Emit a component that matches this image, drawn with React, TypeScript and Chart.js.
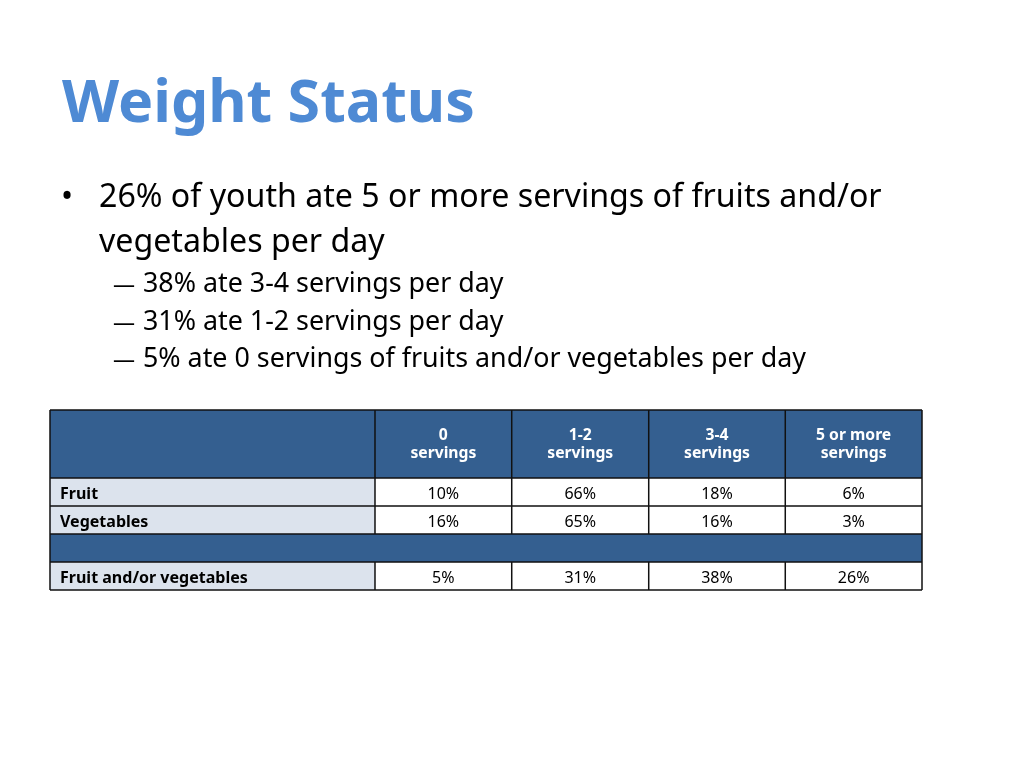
import React, { useEffect, useRef } from 'react';
import { Chart, registerables } from 'chart.js';

Chart.register(...registerables);

// ---- data ----
const TITLE = 'Weight Status';
const BULLET_LINES = ['26% of youth ate 5 or more servings of fruits and/or', 'vegetables per day'];
const SUB_BULLETS = [
  '38% ate 3-4 servings per day',
  '31% ate 1-2 servings per day',
  '5% ate 0 servings of fruits and/or vegetables per day',
];
const COLUMN_TOP = ['0', '1-2', '3-4', '5 or more'];
const COLUMN_BOTTOM = ['servings', 'servings', 'servings', 'servings'];
const ROW_LABELS = ['Fruit', 'Vegetables', '', 'Fruit and/or vegetables'];
const FRUIT = [10, 66, 18, 6];
const VEGETABLES = [16, 65, 16, 3];
const FRUIT_OR_VEGETABLES = [5, 31, 38, 26];
const ROW_VALUES: (number[] | null)[] = [FRUIT, VEGETABLES, null, FRUIT_OR_VEGETABLES];

// ---- style ----
const FAMILY = '"Noto Sans", "Open Sans", sans-serif';
const TITLE_COLOR = '#4E8AD4';
const HEADER_BG = '#345F90';
const LABEL_BG = '#DCE3ED';
const LINE_COLOR = '#111111';
// column edges on the x scale (percent of table width)
const COL_EDGES = [0, 37.27, 52.95, 68.66, 84.32, 100];

function fit(ctx: CanvasRenderingContext2D, text: string, weight: string, target: number) {
  ctx.font = `${weight} 100px ${FAMILY}`;
  const w = ctx.measureText(text).width;
  return (100 * target) / w;
}

const slidePlugin = {
  id: 'slide',
  afterDraw(chart: any) {
    const ctx: CanvasRenderingContext2D = chart.ctx;
    const xs = chart.scales.x;
    const ys = chart.scales.y;
    const area = chart.chartArea;
    ctx.save();
    ctx.textBaseline = 'alphabetic';

    // title
    const ts = fit(ctx, TITLE, 'bold', 413);
    ctx.font = `bold ${ts}px ${FAMILY}`;
    ctx.fillStyle = TITLE_COLOR;
    ctx.textAlign = 'left';
    ctx.fillText(TITLE, 62, 122);

    // bullet
    const bs = fit(ctx, BULLET_LINES[0], 'normal', 783);
    ctx.fillStyle = '#000';
    ctx.font = `normal ${bs}px ${FAMILY}`;
    ctx.textAlign = 'center';
    ctx.fillText('\u2022', 67, 207);
    ctx.textAlign = 'left';
    ctx.fillText(BULLET_LINES[0], 99, 207);
    ctx.fillText(BULLET_LINES[1], 99, 252);

    // sub bullets
    const ss = fit(ctx, SUB_BULLETS[2], 'normal', 663);
    const ds = fit(ctx, '\u2014', 'normal', 22);
    const subBase = [292, 330, 367];
    SUB_BULLETS.forEach((t, i) => {
      ctx.font = `normal ${ds}px ${FAMILY}`;
      ctx.fillText('\u2014', 113, subBase[i] - (ds - ss) * 0.0);
      ctx.font = `normal ${ss}px ${FAMILY}`;
      ctx.fillText(t, 143, subBase[i]);
    });

    // table
    const px = (v: number) => xs.getPixelForValue(v);
    const left = px(COL_EDGES[0]);
    const right = px(COL_EDGES[COL_EDGES.length - 1]);
    const rowH = Math.abs(ys.getPixelForValue(1) - ys.getPixelForValue(0));
    const headerTop = 410;
    const headerBottom = area.top;
    const tableBottom = area.bottom;

    const hs = fit(ctx, 'servings', 'bold', 66);
    const cs = fit(ctx, ROW_LABELS[3], 'bold', 188);

    // header background
    ctx.fillStyle = HEADER_BG;
    ctx.fillRect(left, headerTop, right - left, headerBottom - headerTop);

    ROW_LABELS.forEach((label, r) => {
      const cy = ys.getPixelForValue(r);
      const top = cy - rowH / 2;
      const vals = ROW_VALUES[r];
      if (!vals) {
        ctx.fillStyle = HEADER_BG;
        ctx.fillRect(left, top, right - left, rowH);
        return;
      }
      ctx.fillStyle = LABEL_BG;
      ctx.fillRect(left, top, px(COL_EDGES[1]) - left, rowH);
      ctx.fillStyle = '#FFFFFF';
      ctx.fillRect(px(COL_EDGES[1]), top, right - px(COL_EDGES[1]), rowH);
      ctx.fillStyle = '#000';
      ctx.textAlign = 'left';
      ctx.font = `bold ${cs}px ${FAMILY}`;
      ctx.fillText(label, left + 10, cy + cs * 0.45);
      ctx.textAlign = 'center';
      ctx.font = `normal ${cs}px ${FAMILY}`;
      vals.forEach((v, c) => {
        const cx = (px(COL_EDGES[c + 1]) + px(COL_EDGES[c + 2])) / 2;
        ctx.fillText(`${v}%`, cx, cy + cs * 0.45);
      });
    });

    // header text
    ctx.fillStyle = '#FFFFFF';
    ctx.textAlign = 'center';
    ctx.font = `bold ${hs}px ${FAMILY}`;
    COLUMN_TOP.forEach((t, c) => {
      const cx = (px(COL_EDGES[c + 1]) + px(COL_EDGES[c + 2])) / 2;
      ctx.fillText(t, cx, 440);
      ctx.fillText(COLUMN_BOTTOM[c], cx, 458);
    });

    // grid lines
    ctx.strokeStyle = LINE_COLOR;
    ctx.lineWidth = 1.5;
    ctx.beginPath();
    const hLines = [headerTop, headerBottom];
    ROW_LABELS.forEach((_, r) => hLines.push(ys.getPixelForValue(r) + rowH / 2));
    hLines.forEach((y) => {
      ctx.moveTo(left, y);
      ctx.lineTo(right, y);
    });
    COL_EDGES.forEach((e, i) => {
      const x = px(e);
      if (i === 0 || i === COL_EDGES.length - 1) {
        ctx.moveTo(x, headerTop);
        ctx.lineTo(x, tableBottom);
      } else {
        ctx.moveTo(x, headerTop);
        ctx.lineTo(x, ys.getPixelForValue(1) + rowH / 2);
        ctx.moveTo(x, ys.getPixelForValue(3) - rowH / 2);
        ctx.lineTo(x, tableBottom);
      }
    });
    ctx.stroke();
    ctx.restore();
  },
};

export default function App() {
  const ref = useRef<HTMLCanvasElement | null>(null);
  useEffect(() => {
    if (!ref.current) return;
    const chart = new Chart(ref.current, {
      type: 'bar',
      data: { labels: ROW_LABELS, datasets: [] },
      options: {
        indexAxis: 'y',
        animation: false,
        responsive: false,
        devicePixelRatio: 1,
        layout: { padding: { left: 50, top: 478, right: 102, bottom: 178 } },
        scales: {
          x: { type: 'linear', min: 0, max: 100, display: false },
          y: { type: 'category', labels: ROW_LABELS, offset: true, display: false },
        },
        plugins: { legend: { display: false }, tooltip: { enabled: false }, title: { display: false } },
      },
      plugins: [slidePlugin],
    } as any);
    let alive = true;
    Promise.all([
      document.fonts.load('bold 20px "Noto Sans"'),
      document.fonts.load('20px "Noto Sans"'),
    ]).then(() => {
      if (alive) chart.update();
    }).catch(() => {});
    return () => {
      alive = false;
      chart.destroy();
    };
  }, []);
  return (
    <div style={{ position: 'absolute', left: 0, top: 0, width: 1024, height: 768, background: '#fff' }}>
      <canvas ref={ref} width={1024} height={768} style={{ display: 'block', width: 1024, height: 768 }} />
    </div>
  );
}
